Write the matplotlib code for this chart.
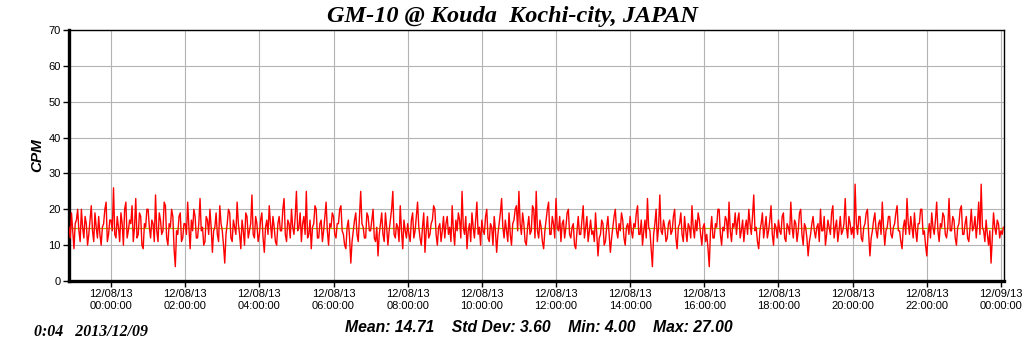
#!/usr/bin/env python3
import matplotlib
matplotlib.use("Agg")
import matplotlib.pyplot as plt
import matplotlib.dates as mdates
import pandas as pd

# Configuration
TITLE = "GM-10 @ Kouda  Kochi-city, JAPAN"
STAMP = "0:04   2013/12/09"
STATS = "Mean: 14.71    Std Dev: 3.60    Min: 4.00    Max: 27.00"
MEAN = 14.71
START = "2013-12-07 22:52"
STEP = "2min"

# CPM readings, 2 minute steps (22:52 on 12/07 to 00:04 on 12/09)
cpm_pre = [15, 12, 19, 14, 9, 16, 17, 20, 14, 11, 20, 15, 12, 18, 16, 10, 13, 17,
           21, 14, 11, 19, 15, 12, 18, 13, 10, 15, 16, 20, 22, 11, 13, 17]
cpm_h00 = [17, 14, 26, 13, 12, 18, 15, 11, 19, 16, 10, 20, 22, 12, 14,
           17, 16, 21, 11, 15, 23, 12, 13, 19, 18, 10, 9, 16, 15, 20]
cpm_h01 = [20, 15, 12, 17, 16, 11, 24, 14, 11, 19, 17, 13, 14, 22, 21,
           12, 10, 16, 15, 20, 18, 9, 4, 14, 13, 18, 19, 11, 12, 16]
cpm_h02 = [16, 13, 22, 15, 9, 17, 14, 20, 18, 12, 12, 16, 23, 14, 15,
           10, 11, 18, 17, 13, 20, 15, 8, 14, 15, 19, 13, 11, 21, 16]
cpm_h03 = [14, 10, 5, 13, 16, 20, 19, 12, 11, 17, 15, 13, 22, 16, 13,
           9, 17, 14, 10, 19, 18, 12, 14, 16, 24, 13, 12, 18, 16, 11]
cpm_h04 = [13, 17, 19, 12, 8, 15, 17, 13, 21, 16, 12, 18, 15, 11, 10,
           16, 18, 14, 14, 20, 23, 13, 11, 17, 16, 12, 20, 15, 13, 18]
cpm_h05 = [25, 14, 15, 19, 11, 16, 18, 13, 25, 12, 13, 17, 9, 15, 16,
           21, 20, 12, 12, 16, 17, 11, 14, 18, 22, 14, 10, 16, 15, 19]
cpm_h06 = [18, 13, 12, 16, 16, 20, 21, 14, 13, 10, 9, 15, 17, 12, 5,
           11, 14, 17, 19, 13, 11, 18, 25, 16, 15, 12, 12, 19, 18, 14]
cpm_h07 = [14, 17, 20, 12, 11, 15, 7, 13, 16, 19, 13, 11, 19, 15, 10,
           14, 17, 20, 25, 13, 12, 16, 15, 11, 21, 14, 9, 17, 14, 12]
cpm_h08 = [16, 13, 11, 17, 19, 12, 14, 18, 22, 15, 12, 10, 15, 19, 8,
           14, 18, 12, 13, 16, 17, 21, 20, 13, 10, 15, 16, 11, 14, 18]
cpm_h09 = [12, 16, 18, 13, 15, 11, 21, 14, 10, 17, 14, 19, 17, 12, 25,
           15, 13, 18, 9, 14, 16, 11, 19, 15, 12, 17, 22, 13, 15, 10]
cpm_h10 = [17, 14, 13, 18, 20, 12, 11, 16, 15, 10, 18, 14, 8, 13, 16,
           19, 23, 15, 12, 17, 14, 11, 19, 13, 10, 16, 17, 20, 21, 14]
cpm_h11 = [25, 16, 13, 19, 16, 11, 10, 15, 18, 13, 14, 21, 20, 12, 25,
           14, 12, 17, 15, 11, 9, 14, 17, 20, 22, 13, 13, 18, 16, 12]
cpm_h12 = [23, 15, 14, 18, 11, 16, 17, 12, 15, 19, 20, 13, 12, 15, 16,
           10, 9, 14, 18, 13, 13, 17, 21, 12, 15, 18, 11, 14, 17, 13]
cpm_h13 = [14, 11, 19, 13, 7, 12, 13, 17, 16, 10, 11, 15, 18, 13, 8,
           12, 15, 18, 20, 14, 12, 16, 14, 19, 17, 12, 10, 15, 16, 13]
cpm_h14 = [18, 14, 12, 16, 15, 19, 21, 13, 13, 17, 10, 14, 17, 12, 23,
           15, 14, 9, 4, 13, 16, 20, 11, 15, 24, 14, 13, 17, 15, 11]
cpm_h15 = [12, 16, 17, 13, 14, 18, 20, 12, 9, 15, 16, 19, 13, 11, 18,
           14, 11, 16, 15, 12, 21, 15, 12, 17, 14, 19, 17, 13, 10, 15]
cpm_h16 = [16, 11, 13, 9, 4, 14, 18, 12, 12, 16, 15, 20, 20, 13, 10,
           15, 14, 18, 17, 12, 22, 14, 11, 16, 15, 19, 13, 17, 19, 12]
cpm_h17 = [14, 17, 11, 15, 17, 13, 20, 16, 13, 18, 24, 14, 15, 11, 9,
           14, 16, 19, 12, 15, 18, 12, 14, 17, 21, 13, 10, 16, 15, 12]
cpm_h18 = [17, 14, 13, 18, 19, 12, 11, 16, 15, 13, 22, 15, 12, 17, 16,
           11, 14, 19, 20, 13, 10, 16, 15, 12, 7, 11, 13, 16, 18, 14]
cpm_h19 = [12, 15, 16, 11, 20, 14, 14, 18, 10, 13, 17, 15, 13, 19, 21,
           12, 15, 17, 11, 14, 18, 13, 14, 16, 23, 15, 12, 18, 16, 13]
cpm_h20 = [15, 12, 27, 16, 13, 18, 18, 12, 11, 15, 16, 19, 20, 13, 7,
           12, 14, 17, 19, 14, 12, 16, 17, 13, 22, 15, 10, 14, 15, 18]
cpm_h21 = [18, 13, 12, 15, 16, 19, 21, 14, 14, 11, 9, 15, 17, 13, 23,
           16, 13, 18, 15, 12, 19, 14, 11, 16, 16, 20, 20, 13, 14, 10]
cpm_h22 = [7, 13, 16, 12, 19, 15, 13, 17, 22, 14, 11, 16, 15, 19, 18,
           13, 12, 15, 23, 14, 14, 18, 17, 12, 10, 15, 16, 20, 21, 13]
cpm_h23 = [13, 16, 18, 12, 11, 15, 20, 14, 15, 18, 12, 16, 22, 13, 27,
           15, 14, 11, 17, 13, 10, 14, 5, 12, 19, 15, 13, 17, 16, 12]
cpm_end = [14, 13, 15]

cpm = (cpm_pre + cpm_h00 + cpm_h01 + cpm_h02 + cpm_h03 + cpm_h04 + cpm_h05
       + cpm_h06 + cpm_h07 + cpm_h08 + cpm_h09 + cpm_h10 + cpm_h11 + cpm_h12
       + cpm_h13 + cpm_h14 + cpm_h15 + cpm_h16 + cpm_h17 + cpm_h18 + cpm_h19
       + cpm_h20 + cpm_h21 + cpm_h22 + cpm_h23 + cpm_end)
times = pd.date_range(START, periods=len(cpm), freq=STEP)

sans = "Liberation Sans"
serif = "Liberation Serif"

fig = plt.figure(figsize=(10.24, 3.51), dpi=100)
ax = fig.add_axes([0.0674, 0.1994, 0.9131, 0.7151])

ax.plot(times, cpm, color="#ff0000", linewidth=1.0, zorder=3)
ax.axhline(MEAN, color="#a8b400", linewidth=0.9, zorder=2)

ax.set_ylim(0, 70)
ax.set_yticks(range(0, 71, 10))
ax.set_xlim(pd.Timestamp("2013-12-07 22:52"), pd.Timestamp("2013-12-09 00:05"))
ax.xaxis.set_major_locator(mdates.HourLocator(byhour=range(0, 24, 2)))
ax.xaxis.set_major_formatter(mdates.DateFormatter("%m/%d/%y\n%H:%M:%S"))

ax.grid(True, color="#b4b4b4", linewidth=0.8)
ax.set_axisbelow(True)

for side in ["top", "right"]:
    ax.spines[side].set_linewidth(1.0)
for side in ["left", "bottom"]:
    ax.spines[side].set_linewidth(2.4)

ax.tick_params(axis="both", direction="out", length=4, width=1.0, pad=2)
for lbl in ax.get_xticklabels() + ax.get_yticklabels():
    lbl.set_fontfamily(sans)
    lbl.set_fontsize(8)

ax.set_ylabel("CPM", fontfamily=sans, fontsize=11, fontweight="bold",
              fontstyle="italic", labelpad=3)

fig.text(0.5, 0.952, TITLE, ha="center", va="center", fontfamily=serif,
         fontsize=17.5, fontweight="bold", fontstyle="italic")
fig.text(0.033, 0.055, STAMP, ha="left", va="center", fontfamily=serif,
         fontsize=11.4, fontweight="bold", fontstyle="italic")
fig.text(0.337, 0.068, STATS, ha="left", va="center", fontfamily=sans,
         fontsize=11.3, fontweight="bold", fontstyle="italic")

fig.savefig("out.png", dpi=100)
